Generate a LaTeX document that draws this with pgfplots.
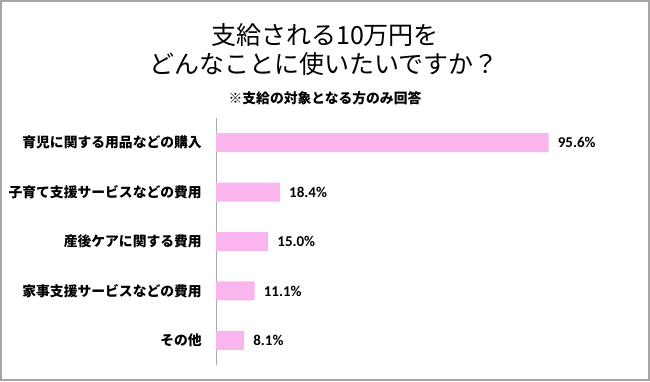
\documentclass[border=0pt]{standalone}
\usepackage{pgfplots}
\pgfplotsset{compat=1.18}
\usepackage{fontspec}
\setmainfont{Noto Sans CJK JP}
\newfontfamily\numfont{Carlito}
\definecolor{barpink}{RGB}{250,180,238}
\definecolor{framegray}{RGB}{166,166,166}
\definecolor{axisgray}{RGB}{170,170,170}
\begin{document}
\begin{tikzpicture}[x=1pt,y=1pt]
\path[use as bounding box] (0,0) rectangle (650,381);
\draw[framegray, line width=1.3pt] (0.9,0.9) rectangle (649.1,380.1);
\node[font=\fontsize{25}{28}\selectfont] at (325,346) {支給される10万円を};
\node[font=\fontsize{25}{28}\selectfont] at (324,317) {どんなことに使いたいですか？};
\node[font=\fontsize{13.8}{16}\selectfont\bfseries] at (325,283) {※支給の対象となる方のみ回答};
\begin{axis}[
  at={(216pt,16pt)}, anchor=south west,
  scale only axis, width=348pt, height=247pt,
  xbar, bar width=19pt,
  xmin=0, xmax=100, ymin=-0.5, ymax=4.5,
  y dir=reverse,
  enlargelimits=false,
  hide x axis,
  axis y line*=left,
  y axis line style={draw=axisgray, line width=0.8pt},
  ytick={0,1,2,3,4},
  yticklabels={育児に関する用品などの購入, 子育て支援サービスなどの費用, 産後ケアに関する費用, 家事支援サービスなどの費用, その他},
  ytick style={draw=none},
  major tick length=0pt,
  yticklabel style={font=\fontsize{13.8}{16}\selectfont\bfseries, inner sep=0pt, anchor=east, xshift=-14pt},
  nodes near coords={\pgfmathprintnumber[fixed,fixed zerofill,precision=1,assume math mode=true]{\pgfplotspointmeta}\%},
  point meta=x,
  nodes near coords style={font=\numfont\fontsize{15}{18}\selectfont\bfseries, inner sep=0pt, anchor=west, xshift=9pt, text=black},
  clip=false,
]
\addplot[fill=barpink, draw=none] coordinates {(95.6,0) (18.4,1) (15.0,2) (11.1,3) (8.1,4)};
\end{axis}
\end{tikzpicture}
\end{document}
